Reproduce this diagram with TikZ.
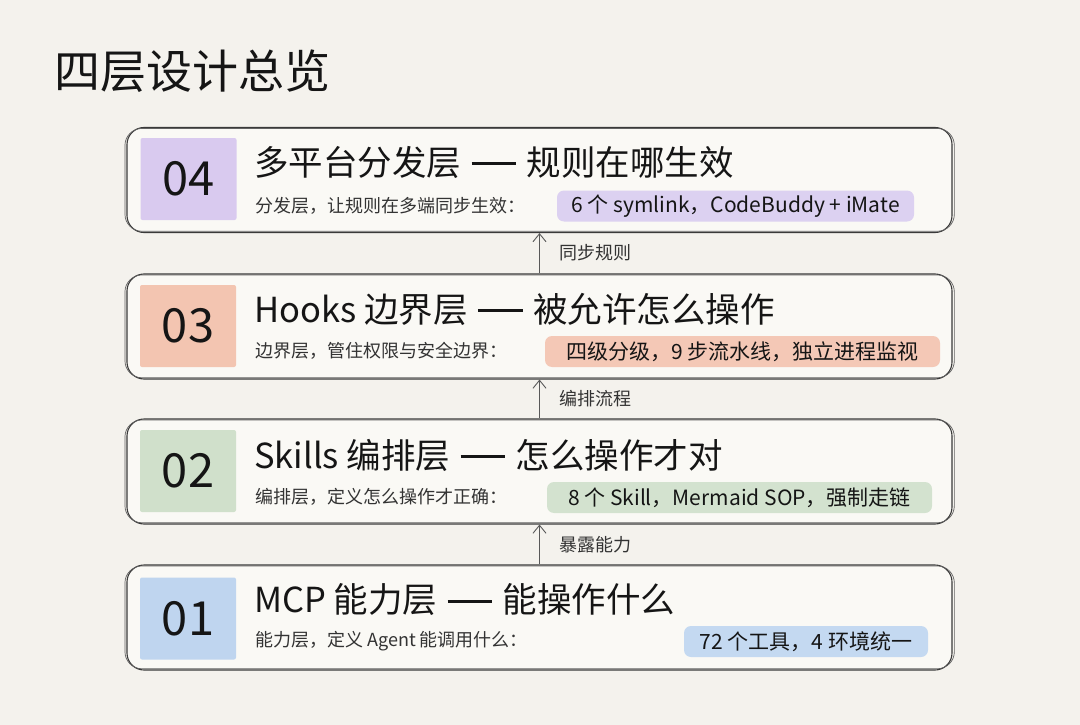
\documentclass[tikz,border=0pt]{standalone}
\usepackage{fontspec}
\setmainfont{Noto Sans CJK SC}
\usetikzlibrary{arrows.meta}
\definecolor{bgc}{HTML}{F4F2ED}
\definecolor{boxc}{HTML}{FAF9F5}
\definecolor{linec}{HTML}{3A3A3A}
\definecolor{purp}{HTML}{D9CAEF}
\definecolor{purhl}{HTML}{DCD1F1}
\definecolor{salm}{HTML}{F3C5B1}
\definecolor{salhl}{HTML}{F4C8B6}
\definecolor{grn}{HTML}{D0E0CB}
\definecolor{grnhl}{HTML}{D3E2CF}
\definecolor{blu}{HTML}{BFD5EF}
\definecolor{bluhl}{HTML}{C4D9F1}
\definecolor{txt}{HTML}{151515}
\definecolor{subt}{HTML}{333333}
\newcommand{\longdash}{\hspace{0.3em}\rule[0.3em]{1.3em}{0.065em}\hspace{0.3em}}
\tikzset{
  layer/.style={draw=linec, line width=1.1pt, fill=boxc, rounded corners=17pt,
    minimum width=825pt, minimum height=105pt, inner sep=0pt},
  shadowline/.style={draw=linec!80, line width=0.7pt, rounded corners=17pt},
  patch/.style={minimum width=96pt, minimum height=82pt, inner sep=0pt, rounded corners=2pt,
    font=\fontsize{47}{50}\selectfont, text=txt},
  heading/.style={anchor=west, inner sep=0pt, font=\fontsize{34.5}{37}\selectfont, text=txt},
  subtitle/.style={anchor=west, inner sep=0pt, font=\fontsize{18}{20}\selectfont, text=subt},
  hl/.style={rounded corners=7pt, inner sep=0pt, minimum height=31pt,
    font=\fontsize{21}{23}\selectfont, text=txt},
  flow/.style={draw=linec!85, line width=0.9pt, -{Straight Barb[length=8pt,width=13pt,line width=0.9pt]}},
  flowlabel/.style={anchor=west, inner sep=0pt, font=\fontsize{18}{20}\selectfont, text=subt}
}
\begin{document}
\begin{tikzpicture}[x=1pt,y=-1pt]
\fill[bgc] (0,0) rectangle (1080,725);
\useasboundingbox (0,0) rectangle (1080,725);

\node[anchor=west, inner sep=0pt, font=\fontsize{46}{50}\selectfont, text=txt] (title) at (54,71) {四层设计总览};

% layer boxes
\node[layer] (b4) at (539.5,180) {};
\node[layer] (b3) at (539.5,326.5) {};
\node[layer] (b2) at (539.5,471.5) {};
\node[layer] (b1) at (539.5,617.5) {};
\foreach \b in {b4,b3,b2,b1}{
  \draw[shadowline] ([shift={(-1.5,-1.8)}]\b.south west) rectangle ([shift={(1.8,1.5)}]\b.north east);
}

% number patches
\node[patch, fill=purp] (p4) at (188.5,179) {04};
\node[patch, fill=salm] (p3) at (188,326) {03};
\node[patch, fill=grn]  (p2) at (188,471) {02};
\node[patch, fill=blu]  (p1) at (188,618.5) {01};

% headings
\node[heading] (h4) at (254,162) {多平台分发层\longdash 规则在哪生效};
\node[heading] (h3) at (254,309) {Hooks 边界层\longdash 被允许怎么操作};
\node[heading] (h2) at (254,455) {Skills 编排层\longdash 怎么操作才对};
\node[heading] (h1) at (254,600) {MCP 能力层\longdash 能操作什么};

% subtitles
\node[subtitle] (s4) at (255,206) {分发层，让规则在多端同步生效：};
\node[subtitle] (s3) at (255,351) {边界层，管住权限与安全边界：};
\node[subtitle] (s2) at (255,497) {编排层，定义怎么操作才正确：};
\node[subtitle] (s1) at (255,641) {能力层，定义 Agent 能调用什么：};

% highlights
\node[hl, fill=purhl, minimum width=357pt] (k4) at (735.5,206) {6 个 symlink，CodeBuddy + iMate};
\node[hl, fill=salhl, minimum width=395pt] (k3) at (742.5,351.5) {四级分级，9 步流水线，独立进程监视};
\node[hl, fill=grnhl, minimum width=385pt] (k2) at (739.5,497.5) {8 个 Skill，Mermaid SOP，强制走链};
\node[hl, fill=bluhl, minimum width=244pt] (k1) at (806,641.5) {72 个工具，4 环境统一};

% connectors
\draw[flow] (b3.north) -- (b4.south);
\draw[flow] (b2.north) -- (b3.south);
\draw[flow] (b1.north) -- (b2.south);
\node[flowlabel] (l43) at (559,253) {同步规则};
\node[flowlabel] (l32) at (559,398.5) {编排流程};
\node[flowlabel] (l21) at (559,545) {暴露能力};
\end{tikzpicture}
\end{document}
